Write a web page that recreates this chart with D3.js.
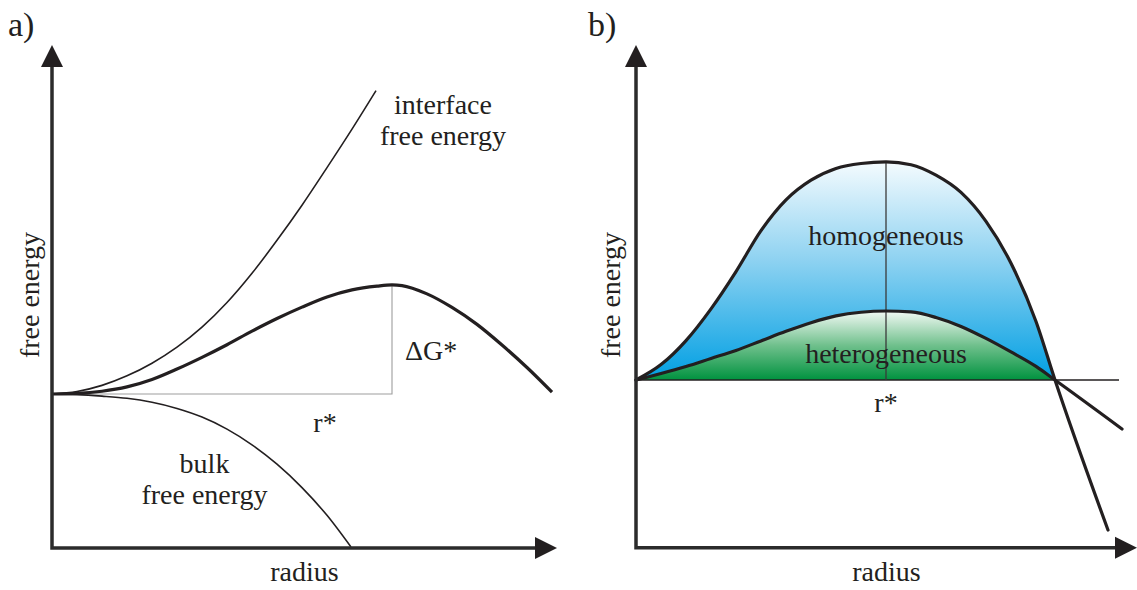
<!DOCTYPE html>
<html>
<head>
<meta charset="utf-8">
<script src="https://cdn.jsdelivr.net/npm/d3@7"></script>
<style>
  html, body { margin: 0; padding: 0; background: #fff; }
  svg { display: block; }
  text { font-family: "Liberation Serif", "Times New Roman", serif; fill: #231f20; }
</style>
</head>
<body>
<svg id="chart" width="1137" height="590"></svg>
<script>
// ---- Panel a: free-energy contributions against cluster radius (arbitrary units) ----
const interfaceRadius = [0, 0.5, 1, 1.5, 2, 2.5, 3, 3.5, 4, 4.5, 5, 5.5, 6, 6.48];
const interfaceEnergy = [0, 0.08, 0.28, 0.59, 1.0, 1.52, 2.17, 2.97, 3.92, 4.99, 6.13, 7.35, 8.6, 9.85];

const totalRadius = [0, 0.5, 1, 1.5, 2, 2.5, 3, 3.5, 4, 4.5, 5, 5.5, 6, 6.5, 6.8, 7, 7.5, 8, 8.5, 9, 9.5, 10];
const totalEnergy = [0, 0.02, 0.09, 0.23, 0.47, 0.81, 1.19, 1.6, 2.04, 2.45, 2.82, 3.15, 3.38, 3.5, 3.54, 3.52, 3.25, 2.81, 2.26, 1.59, 0.86, 0.06];

const bulkRadius = [0, 0.5, 1, 1.5, 2, 2.5, 3, 3.5, 4, 4.5, 5, 5.5, 5.98];
const bulkEnergy = [0, -0.02, -0.07, -0.14, -0.27, -0.47, -0.75, -1.14, -1.65, -2.28, -3.04, -3.94, -4.97];

// critical radius and barrier height of the total curve
const rStarA = 6.8;
const deltaGStar = 3.54;

// ---- Panel b: homogeneous vs heterogeneous nucleation barrier ----
const homoRadius = [0, 0.5, 1, 1.5, 2, 2.5, 3, 3.5, 4, 4.5, 5, 5.5, 6, 6.5, 7, 7.5, 8, 8.38, 9.44];
const homoEnergy = [0, 0.5, 1.28, 2.31, 3.52, 4.85, 5.85, 6.49, 6.87, 7.03, 7.08, 6.99, 6.65, 6.09, 5.15, 3.79, 1.9, 0, -4.87];

const heteroRadius = [0, 0.5, 1, 1.5, 2, 2.5, 3, 3.5, 4, 4.5, 5, 5.5, 6, 6.5, 7, 7.5, 8, 8.38, 9.72];
const heteroEnergy = [0, 0.21, 0.44, 0.7, 0.96, 1.27, 1.58, 1.86, 2.08, 2.2, 2.24, 2.21, 2.03, 1.74, 1.35, 0.91, 0.44, 0, -1.59];

const rStarB = 5;
const baselineEndB = 9.66;

// axis extents (data units): x tip, y bottom, y tip
const axisA = { xMax: 10.1, yMin: -5, yMax: 11.33 };
const axisB = { xMax: 10.02, yMin: -5.45, yMax: 10.88 };

// ---- scales ----
const xA = d3.scaleLinear().domain([0, 10]).range([52, 552]);
const yA = d3.scaleLinear().domain([0, 10]).range([394, 86]);
const xB = d3.scaleLinear().domain([0, 10]).range([636, 1136]);
const yB = d3.scaleLinear().domain([0, 10]).range([380, 72]);

const INK = "#231f20";
const ARROW_LEN = 22, ARROW_HALF = 11;

const svg = d3.select("#chart");
const defs = svg.append("defs");

const zip = (xs, ys) => xs.map((x, i) => [x, ys[i]]);

function curvePath(x, y) {
  return d3.line().x(d => x(d[0])).y(d => y(d[1])).curve(d3.curveMonotoneX);
}

function drawAxes(g, x, y, ext) {
  const x0 = x(0), yBase = y(ext.yMin), yTip = y(ext.yMax), xTip = x(ext.xMax);
  g.append("path")
    .attr("d", `M${x0},${yTip + ARROW_LEN - 2}V${yBase}H${xTip - ARROW_LEN + 2}`)
    .attr("fill", "none").attr("stroke", "#2b2b2b").attr("stroke-width", 3.5)
    .attr("stroke-linejoin", "miter");
  g.append("path")
    .attr("d", `M${x0},${yTip}L${x0 - ARROW_HALF},${yTip + ARROW_LEN}L${x0 + ARROW_HALF},${yTip + ARROW_LEN}Z`)
    .attr("fill", INK);
  g.append("path")
    .attr("d", `M${xTip},${yBase}L${xTip - ARROW_LEN},${yBase - ARROW_HALF}L${xTip - ARROW_LEN},${yBase + ARROW_HALF}Z`)
    .attr("fill", INK);
}

// single- or multi-line label; lines are given as an array and stacked with tspans
function label(g, lines, x, y, opts = {}) {
  const t = g.append("text").attr("x", x).attr("y", y)
    .attr("text-anchor", opts.anchor || "middle")
    .attr("font-size", opts.size || 28);
  [].concat(lines).forEach((line, i) => {
    t.append("tspan").attr("x", x).attr("dy", i === 0 ? 0 : (opts.lineGap || 31)).text(line);
  });
  if (opts.rotate) t.attr("transform", `rotate(-90,${x},${y})`);
  return t;
}

// =================== panel a ===================
const gA = svg.append("g");

// guide lines for r* and ΔG*
gA.append("path")
  .attr("d", `M${xA(0)},${yA(0)}H${xA(rStarA)}V${yA(deltaGStar)}`)
  .attr("fill", "none").attr("stroke", "#9d9d9d").attr("stroke-width", 1.1);

gA.append("path").datum(zip(interfaceRadius, interfaceEnergy))
  .attr("d", curvePath(xA, yA)).attr("fill", "none")
  .attr("stroke", INK).attr("stroke-width", 1.6);

gA.append("path").datum(zip(bulkRadius, bulkEnergy))
  .attr("d", curvePath(xA, yA)).attr("fill", "none")
  .attr("stroke", INK).attr("stroke-width", 1.6);

gA.append("path").datum(zip(totalRadius, totalEnergy))
  .attr("d", curvePath(xA, yA)).attr("fill", "none")
  .attr("stroke", INK).attr("stroke-width", 3.2);

drawAxes(gA, xA, yA, axisA);

label(gA, "a)", 8, 36, { anchor: "start", size: 34 });
label(gA, ["interface", "free energy"], xA(7.82), 114);
label(gA, "\u0394G*", xA(rStarA) + 13, yA(deltaGStar / 2) + 21, { anchor: "start" });
label(gA, "r*", xA(5.46), 432);
label(gA, ["bulk", "free energy"], xA(3.05), 473);
label(gA, "radius", (xA(0) + xA(axisA.xMax)) / 2, 581);
label(gA, "free energy", 39, 295, { rotate: true });

// =================== panel b ===================
const gB = svg.append("g");

const blueGrad = defs.append("linearGradient").attr("id", "homoFill")
  .attr("gradientUnits", "userSpaceOnUse")
  .attr("x1", 0).attr("x2", 0)
  .attr("y1", yB(d3.max(homoEnergy))).attr("y2", yB(0));
blueGrad.append("stop").attr("offset", "0%").attr("stop-color", "#f4fbfe");
blueGrad.append("stop").attr("offset", "45%").attr("stop-color", "#8ed2f1");
blueGrad.append("stop").attr("offset", "100%").attr("stop-color", "#009fe3");

const greenGrad = defs.append("linearGradient").attr("id", "heteroFill")
  .attr("gradientUnits", "userSpaceOnUse")
  .attr("x1", 0).attr("x2", 0)
  .attr("y1", yB(d3.max(heteroEnergy))).attr("y2", yB(0));
greenGrad.append("stop").attr("offset", "0%").attr("stop-color", "#f2f9f4");
greenGrad.append("stop").attr("offset", "50%").attr("stop-color", "#6fc08c");
greenGrad.append("stop").attr("offset", "100%").attr("stop-color", "#00923f");

// only the part of each barrier above the baseline is shaded
defs.append("clipPath").attr("id", "aboveBaseline")
  .append("rect")
  .attr("x", xB(0)).attr("y", 0)
  .attr("width", xB(10) - xB(0)).attr("height", yB(0));

const areaB = d3.area()
  .x(d => xB(d[0])).y0(yB(0)).y1(d => yB(d[1]))
  .curve(d3.curveMonotoneX);

gB.append("path").datum(zip(homoRadius, homoEnergy))
  .attr("d", areaB).attr("fill", "url(#homoFill)")
  .attr("clip-path", "url(#aboveBaseline)");
gB.append("path").datum(zip(heteroRadius, heteroEnergy))
  .attr("d", areaB).attr("fill", "url(#heteroFill)")
  .attr("clip-path", "url(#aboveBaseline)");

// baseline and critical-radius marker
gB.append("line")
  .attr("x1", xB(0)).attr("x2", xB(baselineEndB))
  .attr("y1", yB(0)).attr("y2", yB(0))
  .attr("stroke", INK).attr("stroke-width", 1.6);
gB.append("line")
  .attr("x1", xB(rStarB)).attr("x2", xB(rStarB))
  .attr("y1", yB(0)).attr("y2", yB(d3.max(homoEnergy)))
  .attr("stroke", "#3a3a3a").attr("stroke-width", 1.3);

gB.append("path").datum(zip(heteroRadius, heteroEnergy))
  .attr("d", curvePath(xB, yB)).attr("fill", "none")
  .attr("stroke", INK).attr("stroke-width", 3.2).attr("stroke-linecap", "round");
gB.append("path").datum(zip(homoRadius, homoEnergy))
  .attr("d", curvePath(xB, yB)).attr("fill", "none")
  .attr("stroke", INK).attr("stroke-width", 3.2).attr("stroke-linecap", "round");

drawAxes(gB, xB, yB, axisB);

label(gB, "b)", 588, 36, { anchor: "start", size: 34 });
label(gB, "homogeneous", xB(rStarB), 245);
label(gB, "heterogeneous", xB(rStarB), 363);
label(gB, "r*", xB(rStarB), 412);
label(gB, "radius", (xB(0) + xB(axisB.xMax)) / 2, 581);
label(gB, "free energy", 620, 295, { rotate: true });
</script>
</body>
</html>
